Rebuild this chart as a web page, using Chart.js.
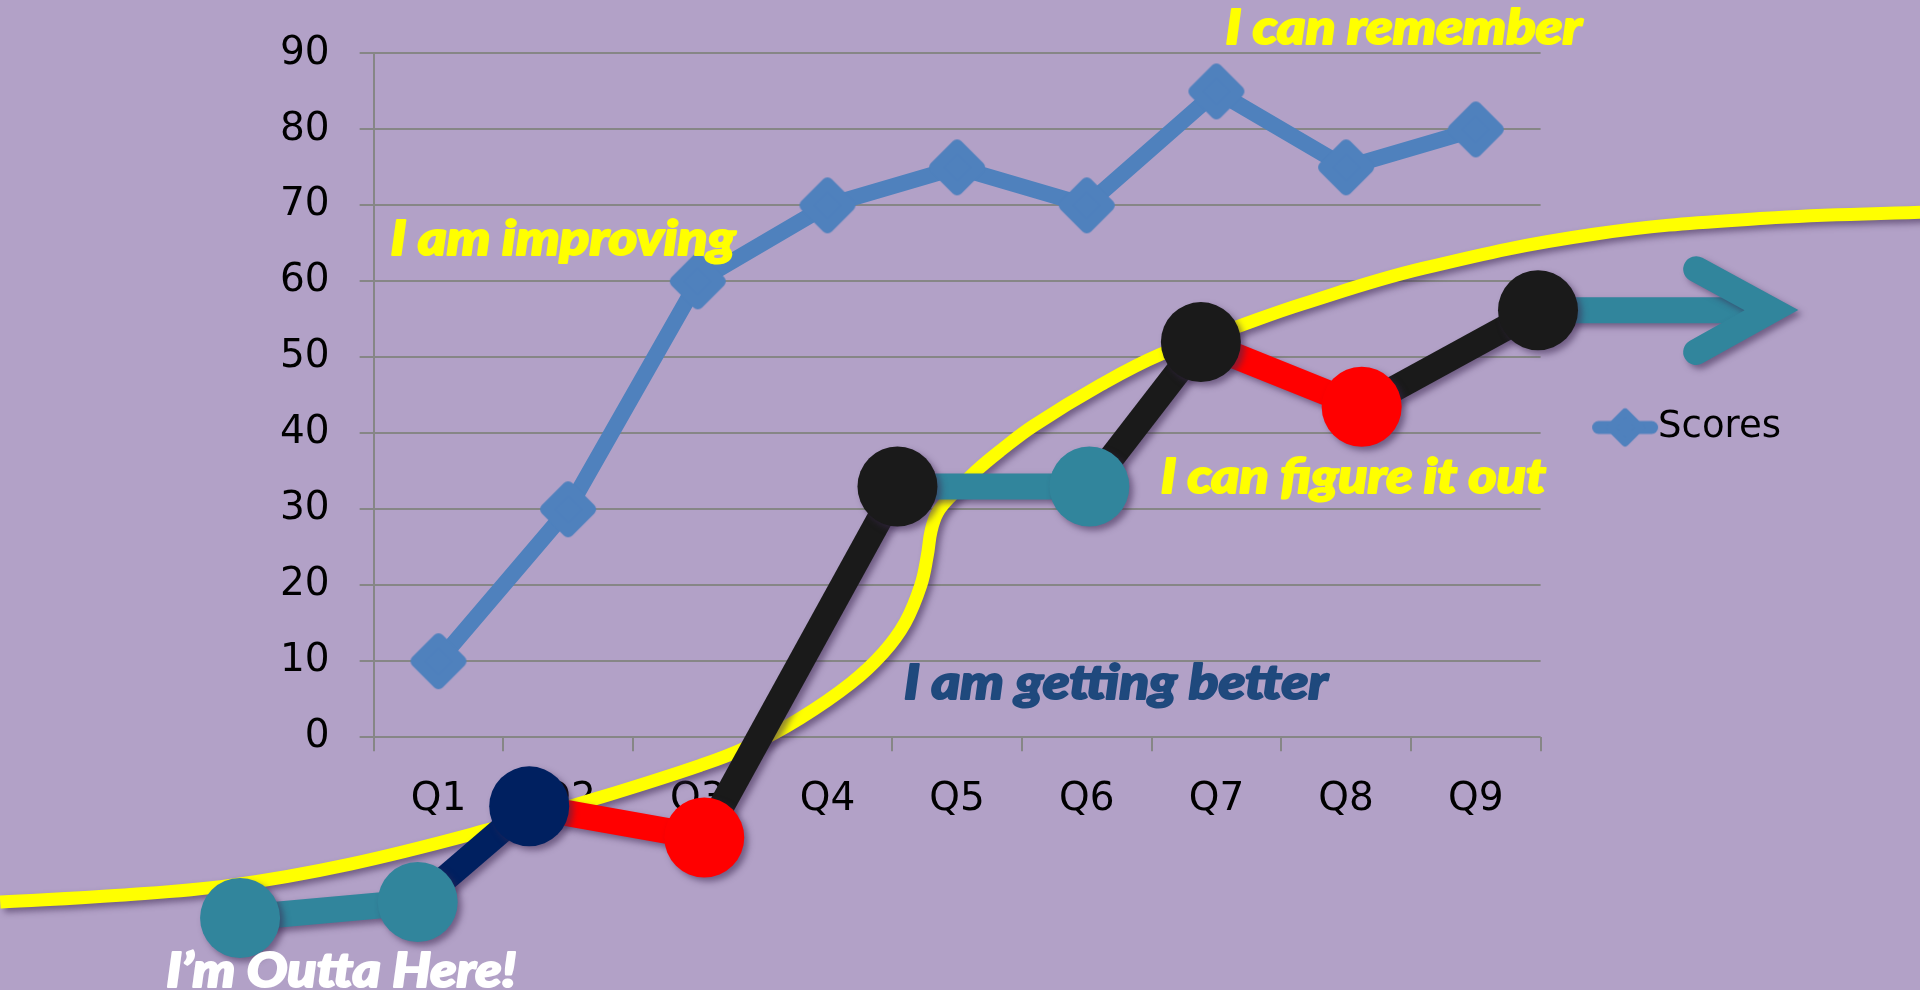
<!DOCTYPE html>
<html>
<head>
<meta charset="utf-8">
<script src="https://cdn.jsdelivr.net/npm/chart.js@4.4.1/dist/chart.umd.min.js"></script>
<style>
  html, body { margin: 0; padding: 0; background: #B2A1C7; }
  #wrap { position: relative; width: 1920px; height: 990px; }
</style>
</head>
<body>
<div id="wrap"><canvas id="chart"></canvas></div>
<script>
// chart data
const quarters = ['Q1', 'Q2', 'Q3', 'Q4', 'Q5', 'Q6', 'Q7', 'Q8', 'Q9'];
const scores = [10, 30, 60, 70, 75, 70, 85, 75, 80];
const yMin = 0, yMax = 90, yStep = 10;

// decorative progress path (in chart units: x = quarter index, y = score)
const pathX = [-1.53, -0.16, 0.70, 2.05, 3.54, 5.02, 5.88, 7.12, 8.48, 10.1];
const pathY = [-23.8, -21.7, -9.1, -13.2, 33.0, 33.0, 52.0, 43.5, 56.2, 56.2];
const arrowX = [9.70, 10.28, 9.70];
const arrowY = [61.6, 56.2, 50.7];

// yellow growth curve
const curveX = [-3.38, -2.46, -1.61, -0.68, 0.38, 1.25, 2.02, 2.38, 2.79, 3.18, 3.43, 3.60, 3.72, 3.77, 3.80, 3.85, 3.95, 4.15, 4.34, 4.59, 5.11, 5.57, 6.14, 6.66, 7.59, 8.91, 10.23, 11.45];
const curveY = [-21.7, -20.8, -19.5, -16.7, -12.2, -7.9, -3.7, -1.3, 2.5, 7.1, 11.1, 15.1, 20.0, 23.9, 27.2, 29.6, 31.7, 35.1, 37.8, 41.0, 46.4, 50.4, 53.9, 57.0, 61.7, 66.2, 68.3, 69.1];

// text notes
const noteTexts = ['I can remember', 'I am improving', 'I can figure it out', 'I am getting better', 'I\u2019m Outta Here!'];
const noteX = [6.07, -0.37, 5.57, 3.59, -2.10];
const noteY = [91.3, 63.5, 32.2, 5.0, -32.9];
const noteSpan = [2.75, 2.66, 2.97, 3.27, 2.70];
const noteColors = ['#FFFF00', '#FFFF00', '#FFFF00', '#1F497D', '#FFFFFF'];

const blue = '#4F81BD';
const teal = '#31859C';
const navy = '#002060';
const red = '#FF0000';
const black = '#1A1A1A';
const pathPointColors = [teal, teal, navy, red, black, teal, black, red, black, teal];
const pathSegColors = [teal, navy, red, black, teal, black, red, black, teal];

const tickFont = "'DejaVu Sans', sans-serif";

// diamond marker (rounded corners), optionally with a line through it for the legend
function diamondIcon(r, lw, lineLen, lineW) {
    const w = Math.max(lineLen, 2 * r + lw) + 4;
    const h = 2 * r + lw + 4;
    const c = document.createElement('canvas');
    c.width = w; c.height = h;
    const g = c.getContext('2d');
    const cx = w / 2, cy = h / 2;
    g.strokeStyle = blue; g.fillStyle = blue;
    g.lineJoin = 'round'; g.lineCap = 'round';
    if (lineLen) {
        g.lineWidth = lineW;
        g.beginPath();
        g.moveTo(2 + lineW / 2, cy);
        g.lineTo(w - 2 - lineW / 2, cy);
        g.stroke();
    }
    g.lineWidth = lw;
    g.beginPath();
    g.moveTo(cx, cy - r); g.lineTo(cx + r, cy); g.lineTo(cx, cy + r); g.lineTo(cx - r, cy);
    g.closePath();
    g.fill(); g.stroke();
    return c;
}
const diamond = diamondIcon(22, 12, 0, 0);
const legendIcon = diamondIcon(15, 8, 66, 13);

const toPoints = (xs, ys) => xs.map((x, i) => ({ x: x, y: ys[i] }));

// decorative shapes: soft drop shadow, and let their points draw outside the plot area
const decorPlugin = {
    id: 'decor',
    beforeDatasetDraw(chart, args) {
        const ctx = chart.ctx;
        ctx.save();
        if (chart.data.datasets[args.index].decor) {
            ctx.shadowColor = 'rgba(60, 40, 80, 0.55)';
            ctx.shadowBlur = 6;
            ctx.shadowOffsetX = 4;
            ctx.shadowOffsetY = 4;
            chart._plotArea = chart.chartArea;
            chart.chartArea = { left: -2000, top: -2000, right: 4000, bottom: 4000, width: 6000, height: 6000 };
        }
    },
    afterDatasetDraw(chart, args) {
        if (chart.data.datasets[args.index].decor) {
            chart.chartArea = chart._plotArea;
        }
        chart.ctx.restore();
    }
};

// free text labels, placed through the chart scales
const notesPlugin = {
    id: 'notes',
    afterDatasetsDraw(chart) {
        const { ctx, scales } = chart;
        const xs = scales.x2, ys = scales.y;
        ctx.save();
        ctx.font = "italic 900 47px Lato, 'Open Sans', sans-serif";
        ctx.textBaseline = 'alphabetic';
        ctx.textAlign = 'left';
        ctx.lineJoin = 'round';
        ctx.lineWidth = 2;
        noteTexts.forEach((t, i) => {
            const px = xs.getPixelForValue(noteX[i]);
            const py = ys.getPixelForValue(noteY[i]);
            const want = xs.getPixelForValue(noteX[i] + noteSpan[i]) - px;
            const k = want / ctx.measureText(t).width;
            ctx.save();
            ctx.translate(px, py);
            ctx.scale(k, 1);
            ctx.fillStyle = noteColors[i];
            ctx.strokeStyle = noteColors[i];
            ctx.strokeText(t, 0, 0);
            ctx.fillText(t, 0, 0);
            ctx.restore();
        });
        ctx.restore();
    }
};

new Chart(document.getElementById('chart'), {
    type: 'line',
    data: {
        labels: quarters,
        datasets: [
            {
                label: 'Scores',
                data: scores,
                borderColor: blue,
                backgroundColor: blue,
                borderWidth: 16,
                borderJoinStyle: 'round',
                tension: 0,
                pointStyle: diamond,
                pointRadius: 28,
                order: 4,
                clip: false
            },
            {
                label: 'path',
                xAxisID: 'x2',
                data: toPoints(pathX, pathY),
                borderWidth: 26,
                borderCapStyle: 'butt',
                segment: { borderColor: ctx => pathSegColors[ctx.p0DataIndex] },
                pointStyle: 'circle',
                pointRadius: pathX.map((x, i) => i === pathX.length - 1 ? 0 : 40),
                pointBackgroundColor: pathPointColors,
                pointBorderWidth: 0,
                tension: 0,
                order: 1,
                clip: false,
                decor: true
            },
            {
                label: 'arrow',
                xAxisID: 'x2',
                data: toPoints(arrowX, arrowY),
                borderColor: teal,
                borderWidth: 26,
                borderCapStyle: 'round',
                borderJoinStyle: 'miter',
                pointRadius: 0,
                tension: 0,
                order: 0,
                clip: false,
                decor: true
            },
            {
                label: 'curve',
                xAxisID: 'x2',
                data: toPoints(curveX, curveY),
                borderColor: '#FFFF00',
                borderWidth: 13,
                tension: 0.4,
                capBezierPoints: false,
                pointRadius: 0,
                order: 3,
                clip: false,
                decor: true
            }
        ]
    },
    options: {
        responsive: true,
        maintainAspectRatio: false,
        animation: false,
        events: [],
        layout: { padding: { left: 250, right: 129, top: 52, bottom: 142 } },
        scales: {
            x: {
                type: 'category',
                offset: true,
                grid: { offset: true, drawOnChartArea: false, drawTicks: true, tickLength: 14, color: '#868686', lineWidth: 2 },
                border: { display: false },
                ticks: { color: '#000', padding: 25, font: { family: tickFont, size: 39 } }
            },
            x2: {
                type: 'linear',
                display: false,
                bounds: 'data',
                afterDataLimits: s => { s.min = -0.5; s.max = quarters.length - 0.5; }
            },
            y: {
                min: yMin,
                max: yMax,
                grid: { color: '#868686', lineWidth: 2, tickLength: 14 },
                border: { color: '#868686', width: 2 },
                ticks: { stepSize: yStep, color: '#000', padding: 30, font: { family: tickFont, size: 39 } }
            }
        },
        plugins: {
            tooltip: { enabled: false },
            legend: {
                position: 'right',
                fullSize: false,
                title: { display: true, text: '', padding: { top: 0, bottom: 50 }, font: { size: 12 } },
                labels: {
                    usePointStyle: true,
                    boxWidth: 29,
                    padding: 70,
                    color: '#000',
                    font: { family: tickFont, size: 37 },
                    generateLabels: () => [{
                        text: 'Scores',
                        pointStyle: legendIcon,
                        fillStyle: blue,
                        strokeStyle: blue,
                        fontColor: '#000',
                        lineWidth: 0,
                        hidden: false,
                        datasetIndex: 0
                    }]
                }
            }
        }
    },
    plugins: [decorPlugin, notesPlugin]
});
</script>
</body>
</html>
